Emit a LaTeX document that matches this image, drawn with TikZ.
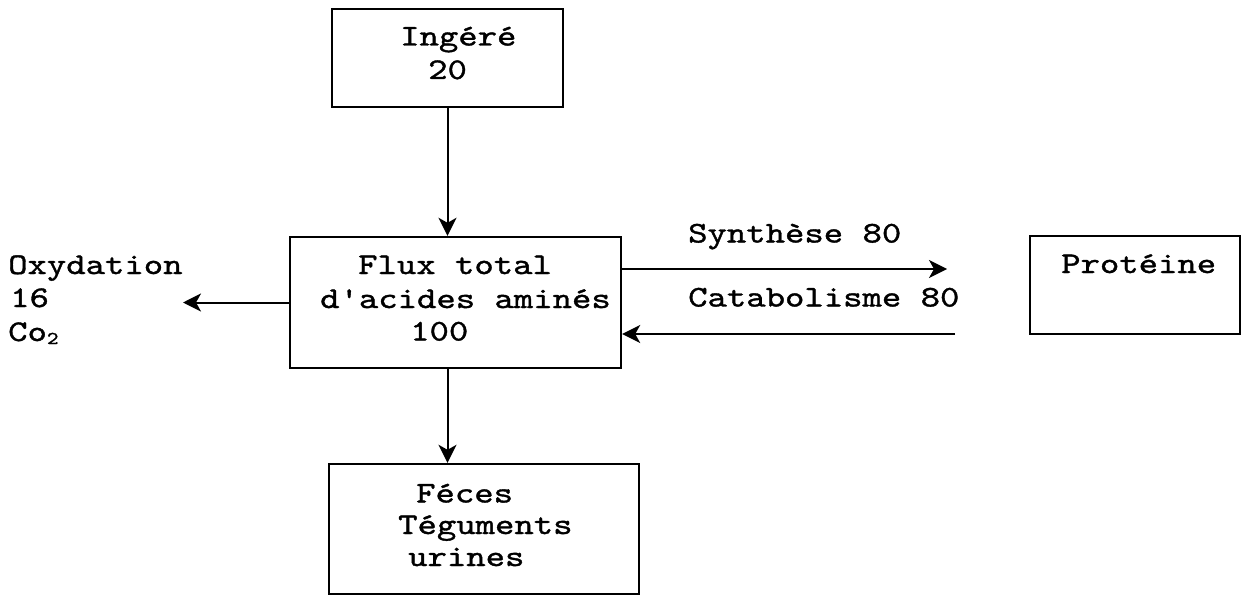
\documentclass[tikz,border=0pt]{standalone}
\usepackage{fontspec}
\newfontfamily\typewriter[FakeStretch=1.23,FakeBold=1.2]{lmmono10-regular.otf}
\usetikzlibrary{arrows.meta}
\begin{document}
\begin{tikzpicture}[x=1pt,y=-1pt,
  box/.style={draw, line width=2.4pt, inner sep=0pt},
  txt/.style={anchor=base west, inner sep=0pt, font=\typewriter\fontsize{30}{33}\selectfont},
  flow/.style={line width=2pt, -{Stealth[length=18pt,width=18pt,inset=5pt]}}]
\useasboundingbox (0,0) rectangle (1244,596);

% compartments
\node[box, minimum width=231pt, minimum height=98pt]  (ing)   at (447.5,58)  {};
\node[box, minimum width=331pt, minimum height=131pt] (flux)  at (455.5,302.5) {};
\node[box, minimum width=210pt, minimum height=98pt]  (prot)  at (1135,285)  {};
\node[box, minimum width=310pt, minimum height=130pt] (feces) at (484,529)   {};

% texts
\node[txt] (ingA)  at (400,45.5)  {Ingéré};
\node[txt] (ingB)  at (428,79)    {20};
\node[txt] (oxA)   at (8,274)     {Oxydation};
\node[txt] (oxB)   at (10,307)    {16};
\node[txt] (oxC)   at (8,341)     {Co\raisebox{-3pt}{\fontsize{18}{18}\selectfont 2}};
\node[txt] (fluxA) at (358,274)   {Flux total};
\node[txt] (fluxB) at (320,308)   {d'acides aminés};
\node[txt] (fluxC) at (410,340.5) {100};
\node[txt] (synA)  at (688,242.5) {Synthèse 80};
\node[txt] (catA)  at (688,306.5) {Catabolisme 80};
\node[txt] (protA) at (1061,273)  {Protéine};
\node[txt] (fecA)  at (416,502.5) {Féces};
\node[txt] (fecB)  at (398,534)   {Téguments};
\node[txt] (fecC)  at (408,566)   {urines};

% free ends of the exchange arrows
\coordinate (oxEnd)    at (183,303);
\coordinate (synEnd)   at (947,269);
\coordinate (catStart) at (955,334);

% fluxes
\draw[flow] (ing.south) -- (ing.south |- flux.north);
\draw[flow] (flux.south -| ing.south) -- (ing.south |- feces.north);
\draw[flow] (flux.west) -- (oxEnd |- flux.west);
\draw[flow] (flux.east |- synEnd) -- (synEnd);
\draw[flow] (catStart) -- (flux.east |- catStart);
\end{tikzpicture}
\end{document}
